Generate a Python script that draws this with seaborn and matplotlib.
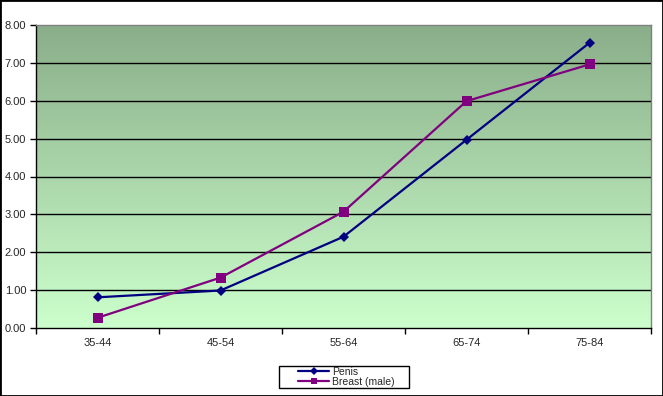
import numpy as np
import pandas as pd
import matplotlib
matplotlib.use("Agg")
import matplotlib.pyplot as plt
import seaborn as sns
from matplotlib.colors import LinearSegmentedColormap
from matplotlib.patches import Rectangle
from matplotlib.lines import Line2D

age_groups = ["35-44", "45-54", "55-64", "65-74", "75-84"]
penis = [0.81, 0.99, 2.41, 4.97, 7.53]
breast_male = [0.27, 1.33, 3.07, 5.99, 6.96]
y_ticks = [0, 1, 2, 3, 4, 5, 6, 7, 8]

sns.set_style("white")
plt.rcParams['font.family'] = ['Liberation Sans', 'DejaVu Sans']

df = pd.DataFrame({
    "age": list(range(len(age_groups))) * 2,
    "rate": penis + breast_male,
    "series": ["Penis"] * len(penis) + ["Breast (male)"] * len(breast_male),
})

fig = plt.figure(figsize=(6.63, 3.96), dpi=100)
ax = fig.add_axes([36 / 663, 68 / 396, 615 / 663, 303 / 396])

# gradient background of the plot area
grad = LinearSegmentedColormap.from_list("g", ["#ccffcc", "#8aae8a"])
ax.imshow(np.linspace(0, 1, 256).reshape(-1, 1), cmap=grad, origin="lower",
          extent=(-0.5, len(age_groups) - 0.5, 0, 8), aspect="auto", zorder=0)

for y in y_ticks[1:-1]:
    ax.axhline(y, color="black", lw=1, zorder=1)

sns.lineplot(data=df, x="age", y="rate", hue="series", style="series",
             palette={"Penis": "#000080", "Breast (male)": "#800080"},
             markers={"Penis": "D", "Breast (male)": "s"},
             dashes=False, lw=1.6, markersize=6, markeredgewidth=0,
             legend=False, ax=ax, zorder=3)
for line in ax.get_lines()[-2:]:
    if line.get_marker() == "s":
        line.set_markersize(6.5)
    else:
        line.set_markersize(5.5)

ax.set_xlim(-0.5, len(age_groups) - 0.5)
ax.set_ylim(0, 8)
ax.set_yticks(y_ticks)
ax.set_yticklabels([f"{v:.2f}" for v in y_ticks], fontsize=8)
ax.set_xticks(np.arange(-0.5, len(age_groups)))
ax.set_xticklabels([])
ax.set_xticks(range(len(age_groups)), minor=True)
ax.set_xticklabels(age_groups, minor=True, fontsize=8)
ax.tick_params(axis="x", which="major", direction="out", length=4, width=1, color="black", bottom=True)
ax.tick_params(axis="x", which="minor", length=0, pad=7)
ax.tick_params(axis="y", direction="out", length=4, width=1, color="black", left=True, pad=3)
ax.set_xlabel("")
ax.set_ylabel("")

for side in ["top", "right"]:
    ax.spines[side].set_color("#808080")
    ax.spines[side].set_linewidth(1)
for side in ["left", "bottom"]:
    ax.spines[side].set_color("black")
    ax.spines[side].set_linewidth(1)

# legend: frame drawn separately so the box can be wider than its content
handles = [
    Line2D([], [], color="#000080", marker="D", markersize=4, lw=1.6, markeredgewidth=0),
    Line2D([], [], color="#800080", marker="s", markersize=5, lw=1.6, markeredgewidth=0),
]
fig.patches.append(Rectangle((279 / 663, 1 - 388 / 396), 130 / 663, 22 / 396,
                             transform=fig.transFigure, facecolor="white",
                             edgecolor="black", lw=1, zorder=4))
leg = fig.legend(handles, ["Penis", "Breast (male)"], loc="center left",
                 bbox_to_anchor=(298 / 663, 1 - 377 / 396), fontsize=7.5,
                 frameon=False, handlelength=3.0, handletextpad=0.25,
                 borderpad=0, labelspacing=0.0, borderaxespad=0)
leg.set_zorder(5)

fig.patches.append(Rectangle((0, 0), 1, 1, transform=fig.transFigure,
                             fill=False, edgecolor="black", lw=2))

fig.savefig("out.png", dpi=100)
